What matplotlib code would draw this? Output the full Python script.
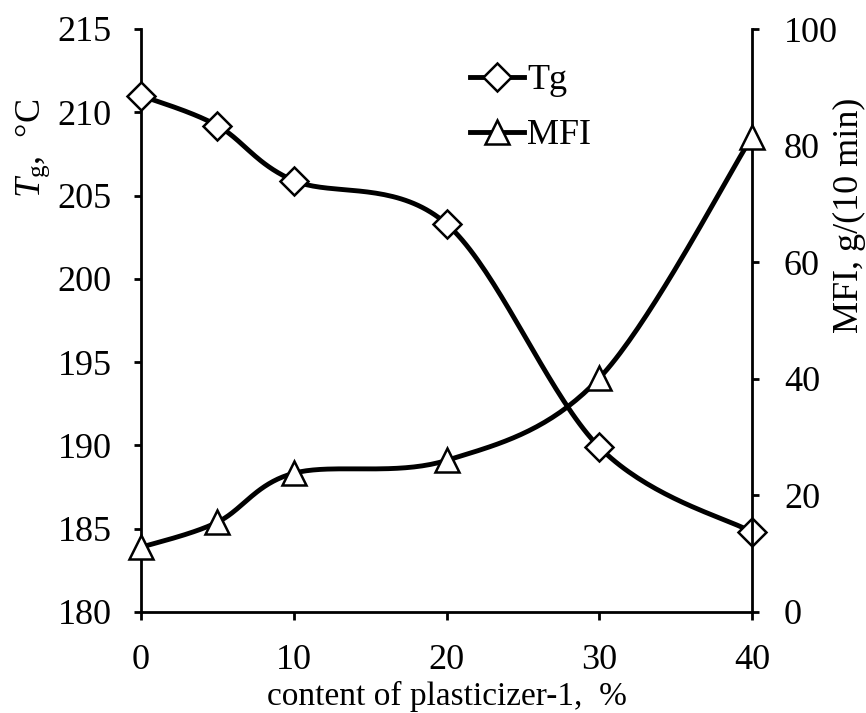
import numpy as np
import matplotlib.pyplot as plt
from matplotlib.lines import Line2D

plt.rcParams['font.family'] = ['Liberation Serif', 'DejaVu Serif']
plt.rcParams['mathtext.fontset'] = 'custom'
plt.rcParams['mathtext.rm'] = 'Liberation Serif'
plt.rcParams['mathtext.it'] = 'Liberation Serif:italic'

# data
content = [0, 5, 10, 20, 30, 40]
tg = [211.0, 209.2, 205.9, 203.3, 189.9, 184.8]
mfi = [11.1, 15.4, 23.8, 26.0, 40.1, 81.5]

x_ticks = [0, 10, 20, 30, 40]
tg_ticks = [180, 185, 190, 195, 200, 205, 210, 215]
mfi_ticks = [0, 20, 40, 60, 80, 100]

FS = 26


def smooth(ax, x, y, n=40):
    # excel-like smoothed line, built in display space
    pts = ax.transData.transform(np.column_stack([x, y]))
    out = []
    t = np.linspace(0, 1, n)[:, None]
    for i in range(len(pts) - 1):
        p0 = pts[max(i - 1, 0)]
        p1 = pts[i]
        p2 = pts[i + 1]
        p3 = pts[min(i + 2, len(pts) - 1)]
        c1 = p1 + (p2 - p0) / 6
        c2 = p2 - (p3 - p1) / 6
        seg = (1 - t)**3 * p1 + 3 * (1 - t)**2 * t * c1 + 3 * (1 - t) * t**2 * c2 + t**3 * p2
        out.append(seg if i == 0 else seg[1:])
    xy = ax.transData.inverted().transform(np.vstack(out))
    return xy[:, 0], xy[:, 1]


fig = plt.figure(figsize=(8.66, 7.13), dpi=100)
ax = fig.add_axes([141 / 866, 1 - 612 / 713, 611 / 866, 583 / 713])
ax2 = ax.twinx()

ax.set_xlim(0, 40)
ax.set_ylim(180, 215)
ax2.set_ylim(0, 100)

for a in (ax, ax2):
    a.spines['top'].set_visible(False)
    for s in a.spines.values():
        s.set_linewidth(2)
ax.spines['right'].set_visible(False)
ax2.spines['left'].set_visible(False)
ax2.spines['bottom'].set_visible(False)

ax.set_xticks(x_ticks)
ax.set_yticks(tg_ticks)
ax2.set_yticks(mfi_ticks)
ax.tick_params(axis='x', direction='out', length=6, width=2, pad=17, labelsize=FS)
ax.tick_params(axis='y', direction='out', length=5, width=2, pad=16, labelsize=FS)
ax2.tick_params(axis='y', direction='out', length=5, width=2, pad=18, labelsize=FS)

lw = 3.5
ms_d, ms_t, mew = 14, 17, 1.8
sx, sy = smooth(ax, content, tg)
ax.plot(sx, sy, color='black', lw=lw, solid_capstyle='round', zorder=2)
ax.plot(content, tg, ls='none', marker='D', ms=ms_d, mfc='white', mec='black', mew=mew, zorder=3, clip_on=False)

sx, sy = smooth(ax2, content, mfi)
ax2.plot(sx, sy, color='black', lw=lw, solid_capstyle='round', zorder=2)
ax2.plot(content, mfi, ls='none', marker='^', ms=ms_t, mfc='white', mec='black', mew=mew, zorder=3, clip_on=False)

ax.set_xlabel('content of plasticizer-1,  %', fontsize=24)
ax.xaxis.set_label_coords(0.5, -0.119)

ax.text(-0.177, 0.795, r'$T_{\rm g}$,  °C', transform=ax.transAxes, rotation=90,
        ha='center', va='center', fontsize=FS)
ax2.text(1.16, 0.68, 'MFI, g/(10 min)', transform=ax2.transAxes, rotation=90,
         ha='center', va='center', fontsize=FS)

handles = [
    Line2D([], [], color='black', lw=lw, marker='D', ms=ms_d, mfc='white', mec='black', mew=mew),
    Line2D([], [], color='black', lw=lw, marker='^', ms=ms_t, mfc='white', mec='black', mew=mew),
]
ax2.legend(handles, ['Tg', 'MFI'], loc='upper left', bbox_to_anchor=(0.538, 0.94),
           frameon=False, fontsize=FS, handlelength=1.5, handletextpad=0.1,
           labelspacing=0.6, borderpad=0, borderaxespad=0, numpoints=1)

fig.savefig('out.png', dpi=100)
